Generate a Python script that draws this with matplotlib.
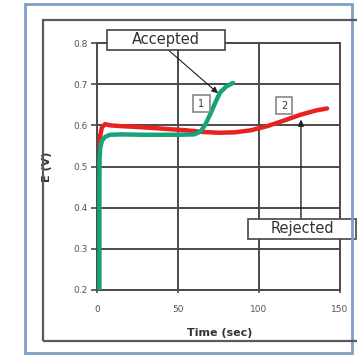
from matplotlib import pyplot as plt
from matplotlib.patches import Rectangle
import numpy as np

# curve readings (time in sec, potential in V)
green_t = [1.5, 1.5, 1.6, 2.0, 3.0, 5.0, 8.0, 15, 30, 50, 60, 64, 67, 70, 73, 76, 80, 84]
green_e = [0.20, 0.45, 0.52, 0.545, 0.562, 0.572, 0.577, 0.578, 0.577, 0.577, 0.578,
           0.585, 0.603, 0.628, 0.655, 0.680, 0.695, 0.703]
red_t = [1.5, 2.0, 3.0, 5.0, 8.0, 15, 25, 40, 55, 65, 75, 85, 95, 105, 115, 125, 135, 142]
red_e = [0.55, 0.575, 0.595, 0.603, 0.600, 0.598, 0.596, 0.592, 0.588, 0.584, 0.582,
         0.583, 0.588, 0.598, 0.611, 0.625, 0.636, 0.641]

x_ticks = [0, 50, 100, 150]
y_ticks = [0.2, 0.3, 0.4, 0.5, 0.6, 0.7, 0.8]
y_tick_labels = ["0.2", "0.3", "0.4", "0.5", "0.6", "0.7", "0.8"]

GRID = "#4a4a4a"
TXT = "#555555"

fig = plt.figure(figsize=(3.57, 3.56), dpi=100)

# outer frames
fig.patches.append(Rectangle((0.070, 0.009), 0.916, 0.980, transform=fig.transFigure,
                             fill=False, edgecolor="#7f9fc8", lw=2.0))
fig.patches.append(Rectangle((0.1204, 0.0421), 0.95, 0.9017, transform=fig.transFigure,
                             fill=False, edgecolor="#5a5a5a", lw=1.6))

ax = fig.add_axes([0.2717, 0.1854, 0.6807, 0.6938])
ax.set_xlim(0, 150)
ax.set_ylim(0.2, 0.8)

ax.set_xticks(x_ticks)
ax.set_yticks(y_ticks)
ax.set_yticklabels(y_tick_labels)
ax.grid(True, color=GRID, lw=1.4)
for s in ax.spines.values():
    s.set_color(GRID)
    s.set_linewidth(1.4)
ax.tick_params(axis="y", length=4.5, width=1.2, color=GRID, pad=2, labelsize=6.5, labelcolor=TXT)
ax.tick_params(axis="x", length=2, width=1.2, color=GRID, pad=9, labelsize=6.5, labelcolor=TXT)

ax.plot(red_t, red_e, color="#e8231f", lw=3.2, solid_capstyle="round", zorder=3)
ax.plot(green_t, green_e, color="#16a37b", lw=3.2, solid_capstyle="round", zorder=4)

ax.set_xlabel("Time (sec)", fontsize=8, fontweight="bold", color="#333333")
ax.xaxis.set_label_coords(0.506, -0.154)
ax.set_ylabel("E (V)", fontsize=8, fontweight="bold", color="#333333")
ax.yaxis.set_label_coords(-0.185, 0.5)


def label_box(x0, x1, y0, y1, text, size, ec):
    ax.add_patch(Rectangle((x0, y0), x1 - x0, y1 - y0, facecolor="white", edgecolor=ec,
                           lw=1.2, clip_on=False, zorder=6))
    ax.text((x0 + x1) / 2, (y0 + y1) / 2, text, ha="center", va="center", fontsize=size,
            color="#333333", zorder=7, clip_on=False)


label_box(6.2, 79.0, 0.783, 0.832, "Accepted", 10.5, "#444444")
label_box(93.2, 159.9, 0.324, 0.373, "Rejected", 10.5, "#444444")
label_box(59.5, 69.5, 0.633, 0.673, "1", 7, "#888888")
label_box(110.5, 120.5, 0.628, 0.668, "2", 7, "#888888")

ax.annotate("", xy=(74.7, 0.678), xytext=(44.0, 0.783),
            arrowprops=dict(arrowstyle="-|>", color="#222222", lw=0.8, mutation_scale=9,
                            shrinkA=0, shrinkB=0), zorder=5)
ax.annotate("", xy=(125.9, 0.614), xytext=(125.9, 0.373),
            arrowprops=dict(arrowstyle="-|>", color="#222222", lw=1.0, mutation_scale=9,
                            shrinkA=0, shrinkB=0), zorder=5)

plt.savefig("out.png", dpi=100)
plt.close()
